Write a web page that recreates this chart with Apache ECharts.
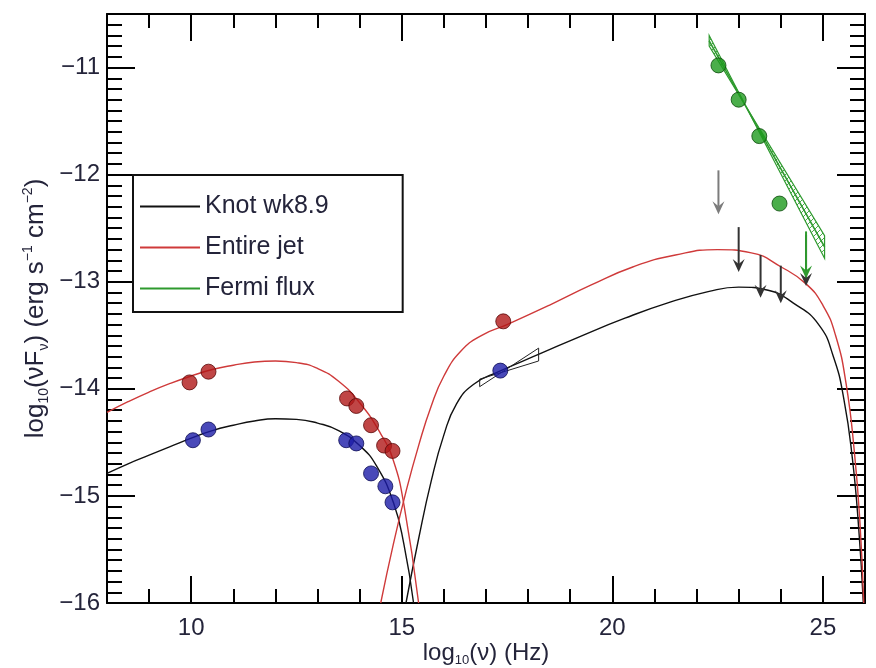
<!DOCTYPE html>
<html>
<head>
<meta charset="utf-8">
<script src="https://cdn.jsdelivr.net/npm/echarts@6/dist/echarts.min.js"></script>
<style>html,body{margin:0;padding:0;background:#fff}#c{width:876px;height:668px}</style>
</head>
<body>
<div id="c"></div>
<script>
// ---- axis ranges and tick labels ----
const xMin = 8, xMax = 26, yMin = -16, yMax = -10.5;
const xMajorTicks = [10, 15, 20, 25];
const yMajorTicks = [-16, -15, -14, -13, -12, -11];

// ---- model curves [log10 nu, log10 nuFnu] ----
const knotSyncCurve = [[8,-14.79],[8.5,-14.70],[9,-14.62],[9.5,-14.54],[10,-14.46],[10.5,-14.39],[11,-14.34],[11.5,-14.30],[12,-14.28],[12.5,-14.285],[13,-14.32],[13.5,-14.39],[14,-14.53],[14.4,-14.72],[14.8,-15.06],[15.05,-15.45],[15.28,-16.0]];
const knotICCurve = [[15.1,-16.0],[15.4,-15.4],[15.7,-14.86],[16.0,-14.43],[16.3,-14.14],[16.7,-13.96],[17.3,-13.84],[18.3,-13.67],[19.3,-13.5],[20.3,-13.34],[21.3,-13.2],[22.3,-13.09],[23.0,-13.05],[23.7,-13.08],[24.3,-13.2],[24.9,-13.4],[25.25,-13.7],[25.5,-14.1],[25.7,-14.65],[25.85,-15.3],[25.96,-16.0]];
const jetSyncCurve = [[8,-14.22],[8.5,-14.12],[9,-14.03],[9.5,-13.95],[10,-13.88],[10.5,-13.82],[11,-13.78],[11.5,-13.75],[12,-13.74],[12.5,-13.755],[13,-13.81],[13.5,-13.93],[14,-14.13],[14.5,-14.42],[14.8,-14.67],[15.05,-15.08],[15.4,-16.0]];
const jetICCurve = [[14.5,-16.0],[14.8,-15.45],[15.1,-14.96],[15.4,-14.53],[15.7,-14.16],[16.0,-13.88],[16.4,-13.65],[16.9,-13.5],[17.5,-13.40],[18.5,-13.22],[19.5,-13.03],[20.5,-12.86],[21.5,-12.75],[22.5,-12.70],[23.3,-12.73],[24.0,-12.86],[24.6,-13.02],[25.0,-13.22],[25.3,-13.5],[25.55,-13.95],[25.75,-14.6],[25.88,-15.25],[25.97,-16.0]];

// ---- measured points ----
const knotPoints = [[10.04,-14.48],[10.41,-14.38],[13.68,-14.48],[13.92,-14.51],[14.27,-14.79],[14.61,-14.91],[14.78,-15.06],[17.34,-13.83]];
const jetPoints = [[9.96,-13.94],[10.41,-13.84],[13.70,-14.09],[13.92,-14.16],[14.27,-14.34],[14.58,-14.53],[14.78,-14.58],[17.41,-13.37]];
const fermiPoints = [[22.52,-10.98],[23.0,-11.30],[23.49,-11.64],[23.97,-12.27]];

// ---- bowties (spectral uncertainty) ----
const fermiBowtie = [[22.3,-10.70],[25.04,-12.78],[25.04,-12.57],[22.3,-10.80]];
const fermiCenter = [[22.3,-10.75],[25.04,-12.675]];
const xrayBowtie = [[16.85,-13.98],[18.25,-13.62],[18.25,-13.74],[16.85,-13.91],[16.85,-13.98]];

// ---- upper limits ----
const ulX   = [22.52, 23.0, 23.52, 24.0, 24.6, 24.6];
const ulTop = [-11.96, -12.49, -12.75, -12.85, -12.56, -12.53];
const ulTip = [-12.37, -12.91, -13.15, -13.20, -13.04, -12.97];
const ulColor = ['#7c7c7c', '#333333', '#333333', '#333333', '#333333', '#2e9a2e'];

// ---- styling ----
const FONT = 'Liberation Sans, Arial, Helvetica, sans-serif';
const TXT = '#24243a';
const C_KNOT = '#111111', C_JET = '#cf3a3a', C_FERMI = '#2e9a2e';

function range(a, b, step) {
  const out = [];
  const n = Math.round((b - a) / step);
  for (let i = 0; i <= n; i++) out.push(Math.round((a + i * step) * 100) / 100);
  return out;
}
const xMinorTicks = range(xMin, xMax, 1);
const yMinorTicks = range(yMin, yMax, 0.1);

function hatch() {
  const c = document.createElement('canvas');
  c.width = 6; c.height = 6;
  const g = c.getContext('2d');
  g.strokeStyle = 'rgba(46,154,46,0.85)';
  g.lineWidth = 1;
  g.beginPath(); g.moveTo(0,6); g.lineTo(6,0); g.stroke();
  g.beginPath(); g.moveTo(-1,1); g.lineTo(1,-1); g.stroke();
  g.beginPath(); g.moveTo(5,7); g.lineTo(7,5); g.stroke();
  return {image: c, repeat: 'repeat'};
}

function xAx(pos, major) {
  return {
    type: 'value', position: pos, min: xMin, max: xMax, interval: 1, gridIndex: 0,
    axisLine: {show: major, onZero: false, lineStyle: {color: '#000', width: 2}},
    axisTick: {show: true, inside: true, length: major ? 27 : 14, customValues: major ? xMajorTicks : xMinorTicks, lineStyle: {color: '#000', width: 2}},
    axisLabel: {show: major && pos === 'bottom', customValues: xMajorTicks, margin: 13, fontSize: 24, color: TXT, fontFamily: FONT},
    splitLine: {show: false}
  };
}
function yAx(pos, major) {
  return {
    type: 'value', position: pos, min: yMin, max: yMax, interval: 1, gridIndex: 0,
    axisLine: {show: major, onZero: false, lineStyle: {color: '#000', width: 2}},
    axisTick: {show: true, inside: true, length: major ? 28 : 15, customValues: major ? yMajorTicks : yMinorTicks, lineStyle: {color: '#000', width: 2}},
    axisLabel: {show: major && pos === 'left', customValues: yMajorTicks, margin: 7, fontSize: 24, color: TXT, fontFamily: FONT,
      formatter: v => String(v).replace('-', '\u2212')},
    splitLine: {show: false}
  };
}

const xAxes = [xAx('bottom', true), xAx('bottom', false), xAx('top', true), xAx('top', false)];
xAxes[0].name = '{a|log}{s|10}{a|(\u03bd) (Hz)}';
xAxes[0].nameLocation = 'middle';
xAxes[0].nameGap = 36;
xAxes[0].nameMoveOverlap = false;
xAxes[0].nameTextStyle = {color: TXT, fontFamily: FONT, rich: {
  a: {fontSize: 24, color: TXT, fontFamily: FONT, lineHeight: 28},
  s: {fontSize: 13, color: TXT, fontFamily: FONT, lineHeight: 13, verticalAlign: 'bottom'}
}};
const yAxes = [yAx('left', true), yAx('left', false), yAx('right', true), yAx('right', false)];
yAxes[0].name = '{a|log}{s|10}{a|(\u03bdF}{s|\u03bd}{a|) (erg s}{p|\u22121}{a| cm}{p|\u22122}{a|)}';
yAxes[0].nameLocation = 'middle';
yAxes[0].nameRotate = 90;
yAxes[0].nameGap = 56;
yAxes[0].nameMoveOverlap = false;
yAxes[0].nameTextStyle = {color: TXT, fontFamily: FONT, rich: {
  a: {fontSize: 26, color: TXT, fontFamily: FONT, lineHeight: 30},
  s: {fontSize: 14, color: TXT, fontFamily: FONT, lineHeight: 14, verticalAlign: 'bottom'},
  p: {fontSize: 14, color: TXT, fontFamily: FONT, lineHeight: 14, verticalAlign: 'top'}
}};

function curve(name, data, color) {
  return {name, type: 'line', data, xAxisIndex: 0, yAxisIndex: 0, showSymbol: false, symbol: 'none',
    smooth: 0.5, color, lineStyle: {color, width: 1.4}, z: 3, silent: true};
}
function pts(name, data, color, border) {
  return {name, type: 'scatter', data, xAxisIndex: 0, yAxisIndex: 0, symbolSize: 15,
    itemStyle: {color, borderColor: border, borderWidth: 1}, z: 6, silent: true};
}

const ulData = ulX.map((x, i) => ({value: [x, ulTop[i], ulTip[i]], itemStyle: {color: ulColor[i]}}));

const option = {
  animation: false,
  backgroundColor: '#fff',
  textStyle: {fontFamily: FONT},
  grid: {left: 107, right: 11, top: 14, bottom: 65, containLabel: false, outerBoundsMode: 'none'},
  xAxis: xAxes,
  yAxis: yAxes,
  legend: {
    orient: 'vertical', left: 133, top: 175, padding: [19, 74, 11, 7],
    itemWidth: 60, itemHeight: 2, itemGap: 16, borderColor: '#111', borderWidth: 2,
    backgroundColor: '#fff', selectedMode: false,
    textStyle: {fontSize: 25, color: TXT, fontFamily: FONT},
    data: [{name: 'Knot wk8.9', icon: 'rect'}, {name: 'Entire jet', icon: 'rect'}, {name: 'Fermi flux', icon: 'rect'}]
  },
  series: [
    {
      name: 'Fermi flux', type: 'custom', xAxisIndex: 0, yAxisIndex: 0, data: fermiBowtie, color: C_FERMI, z: 2, silent: true,
      renderItem: (params, api) => {
        if (params.dataIndex !== 0) return null;
        const p = fermiBowtie.map(q => api.coord(q));
        const c = fermiCenter.map(q => api.coord(q));
        return {type: 'group', children: [
          {type: 'polygon', shape: {points: p}, style: {fill: hatch(), stroke: C_FERMI, lineWidth: 1.2}},
          {type: 'line', shape: {x1: c[0][0], y1: c[0][1], x2: c[1][0], y2: c[1][1]}, style: {stroke: C_FERMI, lineWidth: 1.6}}
        ]};
      }
    },
    {name: 'xray', type: 'line', data: xrayBowtie, xAxisIndex: 0, yAxisIndex: 0, symbol: 'none', smooth: false,
      lineStyle: {color: '#222', width: 1}, z: 4, silent: true},
    curve('Knot wk8.9', knotSyncCurve, C_KNOT),
    curve('Knot wk8.9', knotICCurve, C_KNOT),
    curve('Entire jet', jetSyncCurve, C_JET),
    curve('Entire jet', jetICCurve, C_JET),
    {
      name: 'limits', type: 'custom', xAxisIndex: 0, yAxisIndex: 0, data: ulData, z: 5, silent: true,
      renderItem: (params, api) => {
        const a = api.coord([api.value(0), api.value(1)]);
        const b = api.coord([api.value(0), api.value(2)]);
        const col = api.visual('color');
        return {type: 'group', children: [
          {type: 'line', shape: {x1: a[0], y1: a[1], x2: b[0], y2: b[1] - 8}, style: {stroke: col, lineWidth: 2}},
          {type: 'polygon', shape: {points: [[b[0], b[1]], [b[0] - 6, b[1] - 13], [b[0], b[1] - 8], [b[0] + 6, b[1] - 13]]}, style: {fill: col}}
        ]};
      }
    },
    pts('knotPts', knotPoints, '#1c1ca8', '#0c0c55'),
    pts('jetPts', jetPoints, '#b01818', '#5a0808'),
    pts('fermiPts', fermiPoints, '#1e9a1e', '#0b4a0b')
  ]
};

const chart = echarts.init(document.getElementById('c'), null, {renderer: 'canvas'});
chart.setOption(option);
</script>
</body>
</html>
